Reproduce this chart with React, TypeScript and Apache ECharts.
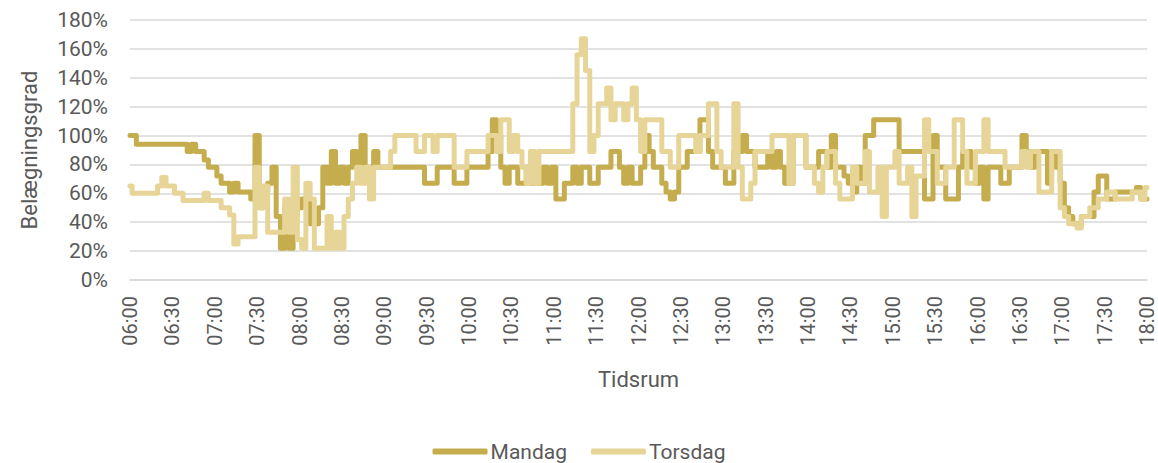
import React, { useEffect, useRef } from "react";
import * as echarts from "echarts";

const tickLabels = [
  "06:00", "06:30", "07:00", "07:30", "08:00", "08:30", "09:00", "09:30",
  "10:00", "10:30", "11:00", "11:30", "12:00", "12:30", "13:00", "13:30",
  "14:00", "14:30", "15:00", "15:30", "16:00", "16:30", "17:00", "17:30", "18:00",
];

const STEP_MINUTES = 3;

const mandag = [
  100, 100, 94, 94, 94, 94, 94, 94, 94, 94,
  94, 94, 94, 94, 89, 94, 89, 89, 83, 78,
  78, 72, 67, 67, 61, 67, 61, 61, 61, 56,
  100, 50, 61, 67, 78, 44, 22, 50, 22, 44,
  50, 56, 56, 39, 39, 50, 78, 67, 89, 67,
  78, 67, 78, 89, 78, 100, 78, 78, 89, 78,
  78, 78, 78, 78, 78, 78, 78, 78, 78, 78,
  67, 67, 67, 78, 78, 78, 78, 67, 67, 67,
  78, 78, 78, 78, 78, 89, 111, 100, 78, 67,
  78, 78, 67, 67, 78, 67, 78, 67, 78, 67,
  78, 56, 56, 67, 67, 78, 67, 78, 78, 67,
  67, 78, 78, 78, 89, 89, 78, 67, 78, 67,
  67, 78, 100, 89, 78, 78, 67, 61, 56, 61,
  78, 78, 89, 89, 89, 111, 111, 89, 78, 78,
  78, 67, 67, 89, 89, 100, 89, 89, 78, 78,
  78, 89, 78, 89, 78, 67, 67, 100, 100, 100,
  78, 78, 78, 89, 89, 78, 100, 78, 78, 72,
  67, 61, 78, 67, 100, 100, 111, 111, 111, 111,
  111, 111, 89, 89, 89, 89, 89, 89, 56, 56,
  100, 78, 78, 56, 56, 56, 78, 89, 89, 78,
  67, 78, 56, 78, 78, 78, 67, 67, 78, 78,
  78, 100, 89, 78, 89, 89, 89, 67, 89, 78,
  67, 50, 44, 39, 39, 44, 44, 44, 61, 72,
  72, 56, 56, 61, 61, 61, 61, 61, 64, 56,
  56,
];

const torsdag = [
  65, 60, 60, 60, 60, 60, 60, 65, 71, 65,
  65, 60, 60, 55, 55, 55, 55, 55, 60, 55,
  55, 55, 50, 50, 45, 25, 30, 30, 30, 30,
  78, 50, 65, 33, 33, 33, 33, 56, 33, 78,
  28, 22, 67, 56, 22, 22, 22, 44, 22, 33,
  22, 44, 56, 67, 78, 67, 78, 56, 78, 78,
  78, 78, 89, 100, 100, 100, 100, 100, 89, 89,
  100, 100, 89, 100, 100, 100, 100, 78, 78, 78,
  89, 89, 89, 89, 89, 100, 100, 89, 111, 111,
  89, 100, 89, 78, 67, 89, 67, 89, 89, 89,
  89, 89, 89, 89, 89, 122, 156, 167, 145, 89,
  100, 122, 122, 133, 111, 122, 122, 111, 122, 133,
  111, 89, 111, 111, 111, 111, 89, 89, 78, 78,
  100, 100, 100, 100, 89, 100, 100, 122, 122, 89,
  78, 78, 78, 122, 78, 56, 56, 67, 89, 89,
  89, 89, 100, 100, 100, 100, 67, 100, 100, 100,
  78, 78, 67, 61, 78, 89, 89, 67, 56, 56,
  56, 78, 67, 67, 89, 61, 61, 78, 44, 78,
  78, 89, 67, 67, 78, 44, 72, 72, 111, 89,
  89, 67, 67, 78, 78, 111, 111, 89, 67, 67,
  89, 89, 111, 89, 89, 89, 89, 78, 78, 78,
  78, 89, 78, 89, 89, 61, 61, 61, 89, 89,
  50, 44, 39, 39, 36, 44, 44, 50, 50, 56,
  56, 61, 61, 56, 56, 56, 56, 61, 61, 56,
  64,
];

const seriesNames = ["Mandag", "Torsdag"];
const seriesColors = ["#C5AD4E", "#E7D597"];

export default function App() {
  const ref = useRef<HTMLDivElement>(null);

  useEffect(() => {
    if (!ref.current) return;
    const chart = echarts.init(ref.current, null, { renderer: "svg" });
    const font = "Roboto, 'DejaVu Sans', sans-serif";
    const textColor = "#595959";
    const toPairs = (arr: number[]) => arr.map((v, i) => [i * STEP_MINUTES, v]);

    chart.setOption({
      animation: false,
      textStyle: { fontFamily: font, color: textColor },
      grid: { left: 130, right: 11, top: 20, bottom: 183, containLabel: false },
      legend: {
        data: seriesNames,
        top: 436,
        left: "center",
        icon: "roundRect",
        itemWidth: 55,
        itemHeight: 6,
        itemGap: 24,
        textStyle: { fontSize: 21, color: textColor, fontFamily: font, padding: [0, 0, 0, -2] },
      },
      xAxis: {
        type: "value",
        min: 0,
        max: 720,
        interval: 30,
        name: "Tidsrum",
        nameLocation: "middle",
        nameGap: 88,
        nameTextStyle: { fontSize: 22, color: textColor, fontFamily: font },
        axisLine: { show: true, lineStyle: { color: "#D9D9D9", width: 1.5 } },
        axisTick: { show: false },
        splitLine: { show: false },
        axisLabel: {
          rotate: 90,
          margin: 16,
          fontSize: 20,
          color: textColor,
          fontFamily: font,
          formatter: (v: number) => tickLabels[Math.round(v / 30)] ?? "",
        },
      },
      yAxis: {
        type: "value",
        min: 0,
        max: 180,
        interval: 20,
        name: "Belægningsgrad",
        nameLocation: "middle",
        nameGap: 90,
        nameTextStyle: { fontSize: 22, color: textColor, fontFamily: font },
        axisLine: { show: false },
        axisTick: { show: false },
        splitLine: { show: true, lineStyle: { color: "#D9D9D9", width: 1.5 } },
        axisLabel: {
          margin: 22,
          fontSize: 21,
          color: textColor,
          fontFamily: font,
          formatter: "{value}%",
        },
      },
      series: [
        {
          name: seriesNames[0],
          type: "line",
          step: "middle",
          showSymbol: false,
          data: toPairs(mandag),
          color: seriesColors[0],
          lineStyle: { width: 5, color: seriesColors[0], cap: "round", join: "round" },
          z: 2,
        },
        {
          name: seriesNames[1],
          type: "line",
          step: "middle",
          showSymbol: false,
          data: toPairs(torsdag),
          color: seriesColors[1],
          lineStyle: { width: 5, color: seriesColors[1], cap: "round", join: "round" },
          z: 3,
        },
      ],
    });

    return () => chart.dispose();
  }, []);

  return (
    <div
      ref={ref}
      style={{ position: "absolute", left: 0, top: 0, width: 1158, height: 463 }}
    />
  );
}
